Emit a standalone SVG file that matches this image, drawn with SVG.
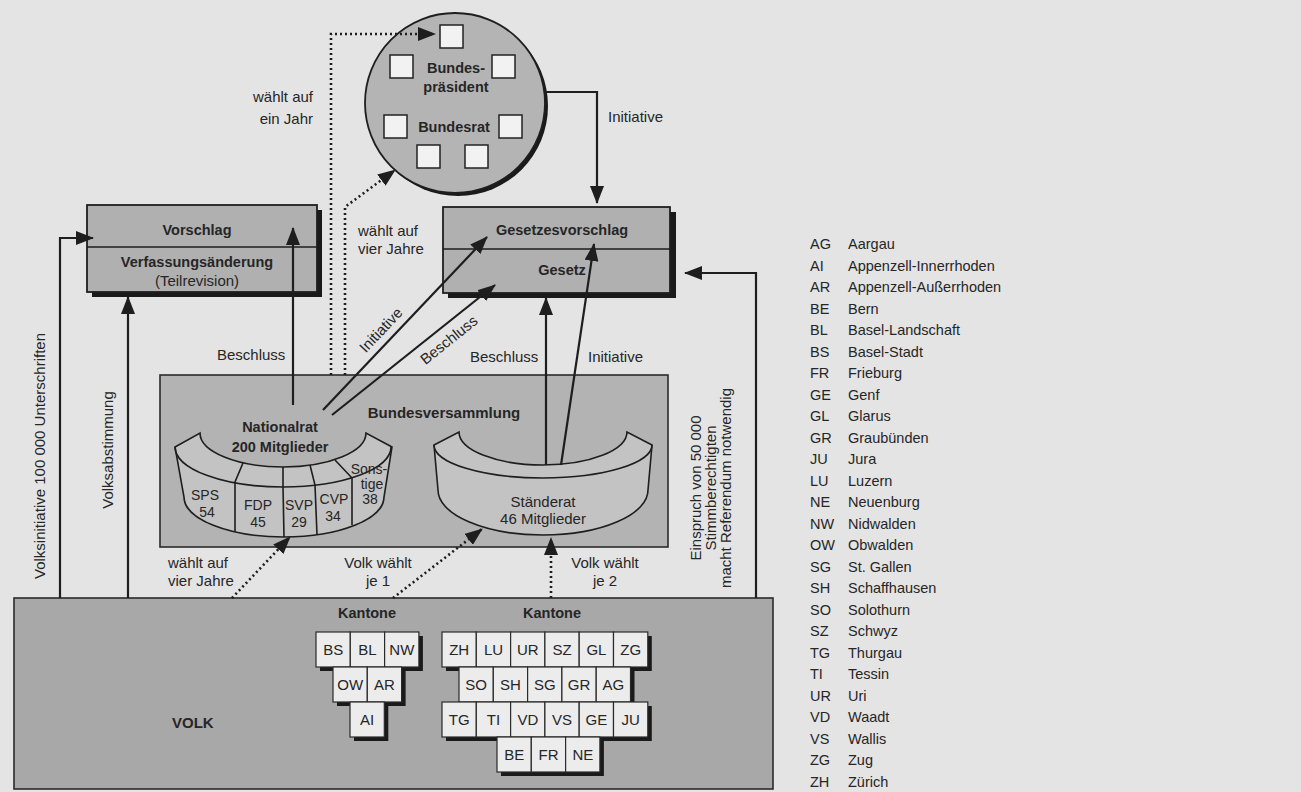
<svg xmlns="http://www.w3.org/2000/svg" width="1301" height="792" viewBox="0 0 1301 792">
<defs>
<style>
.t{font-family:"Liberation Sans",Arial,sans-serif;fill:#262626;font-size:15px}
.b{font-weight:bold;font-size:14.5px}
.s{font-size:14px}
.m{text-anchor:middle}
.e{text-anchor:end}
.ln{fill:none;stroke:#1e1e1e;stroke-width:2.2}
.dt{fill:none;stroke:#1e1e1e;stroke-width:2.6;stroke-dasharray:2 3}
.box{fill:#b0b0b0;stroke:#1e1e1e;stroke-width:1.8}
.tile{fill:#ececec;stroke:#2a2a2a;stroke-width:1.2}
.sh{fill:#1a1a1a}
.sq{fill:#f2f2f2;stroke:#222;stroke-width:1.5}
.hemi{fill:#c3c3c3;stroke:#1e1e1e;stroke-width:1.6}
.thin{fill:none;stroke:#1e1e1e;stroke-width:1.6}
</style>
<marker id="ah" markerUnits="userSpaceOnUse" markerWidth="18" markerHeight="14" refX="17" refY="7" orient="auto">
<path d="M0,0 L18,7 L0,14 Z" fill="#1e1e1e"/>
</marker>
</defs>
<rect x="0" y="0" width="1301" height="792" fill="#e4e4e4"/>

<g id="volk">
<rect x="14" y="598" width="759" height="191" fill="#a8a8a8" stroke="#2a2a2a" stroke-width="1.6"/>
<text class="t b" x="172" y="728" style="font-size:15px">VOLK</text>
</g>

<g id="kantone-links">
<text class="t b m" x="367" y="618">Kantone</text>
<rect class="sh" x="320" y="636" width="34.3" height="35"/><rect class="sh" x="354.3" y="636" width="34.3" height="35"/><rect class="sh" x="388.6" y="636" width="34.3" height="35"/>
<rect class="sh" x="337" y="671" width="34.3" height="35"/><rect class="sh" x="371.3" y="671" width="34.3" height="35"/>
<rect class="sh" x="354" y="706" width="34.3" height="35"/>
<rect class="tile" x="316" y="632" width="34.3" height="35"/><rect class="tile" x="350.3" y="632" width="34.3" height="35"/><rect class="tile" x="384.6" y="632" width="34.3" height="35"/>
<rect class="tile" x="333" y="667" width="34.3" height="35"/><rect class="tile" x="367.3" y="667" width="34.3" height="35"/>
<rect class="tile" x="350" y="702" width="34.3" height="35"/>
<text class="t m" x="333.2" y="655">BS</text><text class="t m" x="367.5" y="655">BL</text><text class="t m" x="401.8" y="655">NW</text>
<text class="t m" x="350.2" y="690">OW</text><text class="t m" x="384.5" y="690">AR</text>
<text class="t m" x="367.2" y="725">AI</text>
</g>

<g id="kantone-rechts">
<text class="t b m" x="552" y="618">Kantone</text>
<rect class="sh" x="446" y="636" width="205.8" height="35"/>
<rect class="sh" x="463" y="671" width="171.5" height="35"/>
<rect class="sh" x="446" y="706" width="205.8" height="35"/>
<rect class="sh" x="501" y="741" width="102.9" height="35"/>
<rect class="tile" x="442" y="632" width="34.3" height="35"/><rect class="tile" x="476.3" y="632" width="34.3" height="35"/><rect class="tile" x="510.6" y="632" width="34.3" height="35"/><rect class="tile" x="544.9" y="632" width="34.3" height="35"/><rect class="tile" x="579.2" y="632" width="34.3" height="35"/><rect class="tile" x="613.5" y="632" width="34.3" height="35"/>
<rect class="tile" x="459" y="667" width="34.3" height="35"/><rect class="tile" x="493.3" y="667" width="34.3" height="35"/><rect class="tile" x="527.6" y="667" width="34.3" height="35"/><rect class="tile" x="561.9" y="667" width="34.3" height="35"/><rect class="tile" x="596.2" y="667" width="34.3" height="35"/>
<rect class="tile" x="442" y="702" width="34.3" height="35"/><rect class="tile" x="476.3" y="702" width="34.3" height="35"/><rect class="tile" x="510.6" y="702" width="34.3" height="35"/><rect class="tile" x="544.9" y="702" width="34.3" height="35"/><rect class="tile" x="579.2" y="702" width="34.3" height="35"/><rect class="tile" x="613.5" y="702" width="34.3" height="35"/>
<rect class="tile" x="497" y="737" width="34.3" height="35"/><rect class="tile" x="531.3" y="737" width="34.3" height="35"/><rect class="tile" x="565.6" y="737" width="34.3" height="35"/>
<text class="t m" x="459.2" y="655">ZH</text><text class="t m" x="493.5" y="655">LU</text><text class="t m" x="527.8" y="655">UR</text><text class="t m" x="562.1" y="655">SZ</text><text class="t m" x="596.4" y="655">GL</text><text class="t m" x="630.7" y="655">ZG</text>
<text class="t m" x="476.2" y="690">SO</text><text class="t m" x="510.5" y="690">SH</text><text class="t m" x="544.8" y="690">SG</text><text class="t m" x="579.1" y="690">GR</text><text class="t m" x="613.4" y="690">AG</text>
<text class="t m" x="459.2" y="725">TG</text><text class="t m" x="493.5" y="725">TI</text><text class="t m" x="527.8" y="725">VD</text><text class="t m" x="562.1" y="725">VS</text><text class="t m" x="596.4" y="725">GE</text><text class="t m" x="630.7" y="725">JU</text>
<text class="t m" x="514.2" y="760">BE</text><text class="t m" x="548.5" y="760">FR</text><text class="t m" x="582.8" y="760">NE</text>
</g>

<g id="bundesversammlung">
<rect x="160" y="375" width="508" height="172" fill="#b3b3b3" stroke="#2a2a2a" stroke-width="1.6"/>
<text class="t b m" x="444" y="418" style="font-size:15px">Bundesversammlung</text>
</g>

<g id="nationalrat">
<path class="hemi" d="M175,447 L200,433 A83,34 0 0 0 366,433 L392,447 L384,497 A100,40 0 0 1 184,497 Z"/>
<path class="thin" d="M175,447 A108,40 0 0 0 391,447"/>
<path class="thin" d="M243,463 L235,482 L235,532 M283,467 L283,486 L284,537 M310,465 L315,485 L317,535 M335,460 L352,478 L352,525"/>
<text class="t b m" x="280" y="432">Nationalrat</text>
<text class="t b m" x="280" y="452">200 Mitglieder</text>
<text class="t s m" x="205" y="500">SPS</text><text class="t s m" x="207" y="517">54</text>
<text class="t s m" x="258" y="510">FDP</text><text class="t s m" x="258" y="527">45</text>
<text class="t s m" x="299" y="510">SVP</text><text class="t s m" x="299" y="527">29</text>
<text class="t s m" x="334" y="504">CVP</text><text class="t s m" x="333" y="521">34</text>
<text class="t s m" x="369" y="474">Sons-</text><text class="t s m" x="372" y="489">tige</text><text class="t s m" x="370" y="504">38</text>
</g>

<g id="staenderat">
<path class="hemi" d="M434,445 L459,432 A84,33 0 0 0 627,432 L652,445 L648,490 A105,45 0 0 1 438,490 Z"/>
<path class="thin" d="M434,445 A109,33 0 0 0 652,445"/>
<text class="t m" x="543" y="507">Ständerat</text>
<text class="t m" x="543" y="524">46 Mitglieder</text>
</g>

<g id="vorschlag">
<rect class="sh" x="92" y="210" width="230" height="87"/>
<rect class="box" x="87" y="205" width="230" height="87"/>
<line x1="87" y1="247" x2="317" y2="247" stroke="#1e1e1e" stroke-width="1.6"/>
<text class="t b m" x="197" y="235">Vorschlag</text>
<text class="t b m" x="197" y="267">Verfassungsänderung</text>
<text class="t m" x="197" y="286">(Teilrevision)</text>
</g>

<g id="gesetzesvorschlag">
<rect class="sh" x="448" y="212" width="228" height="86"/>
<rect class="box" x="443" y="207" width="227" height="86"/>
<line x1="443" y1="249" x2="670" y2="249" stroke="#1e1e1e" stroke-width="1.6"/>
<text class="t b m" x="562" y="235">Gesetzesvorschlag</text>
<text class="t b m" x="562" y="275">Gesetz</text>
</g>

<g id="bundesrat">
<ellipse cx="458" cy="106" rx="90" ry="90" fill="#1a1a1a"/>
<ellipse cx="455" cy="103" rx="90" ry="90" fill="#b4b4b4" stroke="#1e1e1e" stroke-width="1.8"/>
<rect class="sq" x="440" y="25" width="23" height="23"/>
<rect class="sq" x="390" y="55" width="23" height="23"/>
<rect class="sq" x="492" y="55" width="23" height="23"/>
<rect class="sq" x="384" y="115" width="23" height="23"/>
<rect class="sq" x="499" y="115" width="23" height="23"/>
<rect class="sq" x="417" y="145" width="23" height="23"/>
<rect class="sq" x="465" y="145" width="23" height="23"/>
<text class="t b m" x="456" y="73">Bundes-</text>
<text class="t b m" x="456" y="92">präsident</text>
<text class="t b m" x="454" y="132">Bundesrat</text>
</g>

<g id="connectors">
<path class="ln" d="M60,598 V238 H93" marker-end="url(#ah)"/>
<path class="ln" d="M128,598 V297" marker-end="url(#ah)"/>
<path class="ln" d="M293,405 V228" marker-end="url(#ah)"/>
<path class="ln" d="M323,410 L487,237" marker-end="url(#ah)"/>
<path class="ln" d="M332,415 L495,285" marker-end="url(#ah)"/>
<path class="ln" d="M546,465 V298" marker-end="url(#ah)"/>
<path class="ln" d="M561,465 L594,244" marker-end="url(#ah)"/>
<path class="ln" d="M756,598 V273 H685" marker-end="url(#ah)"/>
<path class="ln" d="M545,92 H597 V203" marker-end="url(#ah)"/>
<path class="dt" d="M331,375 V34 H435" marker-end="url(#ah)"/>
<path class="dt" d="M345,375 V207 L395,170" marker-end="url(#ah)"/>
<path class="dt" d="M232,598 L290,537" marker-end="url(#ah)"/>
<path class="dt" d="M393,598 L482,529" marker-end="url(#ah)"/>
<path class="dt" d="M551,598 V538" marker-end="url(#ah)"/>
</g>

<g id="labels">
<text class="t e" x="313" y="102">wählt auf</text>
<text class="t e" x="313" y="124">ein Jahr</text>
<text class="t" x="358" y="236">wählt auf</text>
<text class="t" x="358" y="254">vier Jahre</text>
<text class="t" x="608" y="122">Initiative</text>
<text class="t" x="217" y="360">Beschluss</text>
<text class="t" x="470" y="362">Beschluss</text>
<text class="t" x="588" y="362">Initiative</text>
<text class="t m" transform="translate(381,330) rotate(-46.5)" y="5">Initiative</text>
<text class="t m" transform="translate(449,340) rotate(-38.6)" y="5">Beschluss</text>
<text class="t m" transform="translate(45,456) rotate(-90)">Volksinitiative 100 000 Unterschriften</text>
<text class="t m" transform="translate(113,450) rotate(-90)">Volksabstimmung</text>
<text class="t m" transform="translate(701,488) rotate(-90)">Einspruch von 50 000</text>
<text class="t m" transform="translate(716,488) rotate(-90)">Stimmberechtigten</text>
<text class="t m" transform="translate(731,488) rotate(-90)">macht Referendum notwendig</text>
<text class="t" x="168" y="568">wählt auf</text>
<text class="t" x="168" y="586">vier Jahre</text>
<text class="t m" x="378" y="568">Volk wählt</text>
<text class="t m" x="378" y="586">je 1</text>
<text class="t m" x="605" y="568">Volk wählt</text>
<text class="t m" x="605" y="586">je 2</text>
</g>

<g id="legende" class="t" style="font-size:14.5px">
<text x="810" y="249">AG</text><text x="848" y="249">Aargau</text>
<text x="810" y="270.5">AI</text><text x="848" y="270.5">Appenzell-Innerrhoden</text>
<text x="810" y="292">AR</text><text x="848" y="292">Appenzell-Außerrhoden</text>
<text x="810" y="313.5">BE</text><text x="848" y="313.5">Bern</text>
<text x="810" y="335">BL</text><text x="848" y="335">Basel-Landschaft</text>
<text x="810" y="356.5">BS</text><text x="848" y="356.5">Basel-Stadt</text>
<text x="810" y="378">FR</text><text x="848" y="378">Frieburg</text>
<text x="810" y="399.5">GE</text><text x="848" y="399.5">Genf</text>
<text x="810" y="421">GL</text><text x="848" y="421">Glarus</text>
<text x="810" y="442.5">GR</text><text x="848" y="442.5">Graubünden</text>
<text x="810" y="464">JU</text><text x="848" y="464">Jura</text>
<text x="810" y="485.5">LU</text><text x="848" y="485.5">Luzern</text>
<text x="810" y="507">NE</text><text x="848" y="507">Neuenburg</text>
<text x="810" y="528.5">NW</text><text x="848" y="528.5">Nidwalden</text>
<text x="810" y="550">OW</text><text x="848" y="550">Obwalden</text>
<text x="810" y="571.5">SG</text><text x="848" y="571.5">St. Gallen</text>
<text x="810" y="593">SH</text><text x="848" y="593">Schaffhausen</text>
<text x="810" y="614.5">SO</text><text x="848" y="614.5">Solothurn</text>
<text x="810" y="636">SZ</text><text x="848" y="636">Schwyz</text>
<text x="810" y="657.5">TG</text><text x="848" y="657.5">Thurgau</text>
<text x="810" y="679">TI</text><text x="848" y="679">Tessin</text>
<text x="810" y="700.5">UR</text><text x="848" y="700.5">Uri</text>
<text x="810" y="722">VD</text><text x="848" y="722">Waadt</text>
<text x="810" y="743.5">VS</text><text x="848" y="743.5">Wallis</text>
<text x="810" y="765">ZG</text><text x="848" y="765">Zug</text>
<text x="810" y="786.5">ZH</text><text x="848" y="786.5">Zürich</text>
</g>
</svg>
